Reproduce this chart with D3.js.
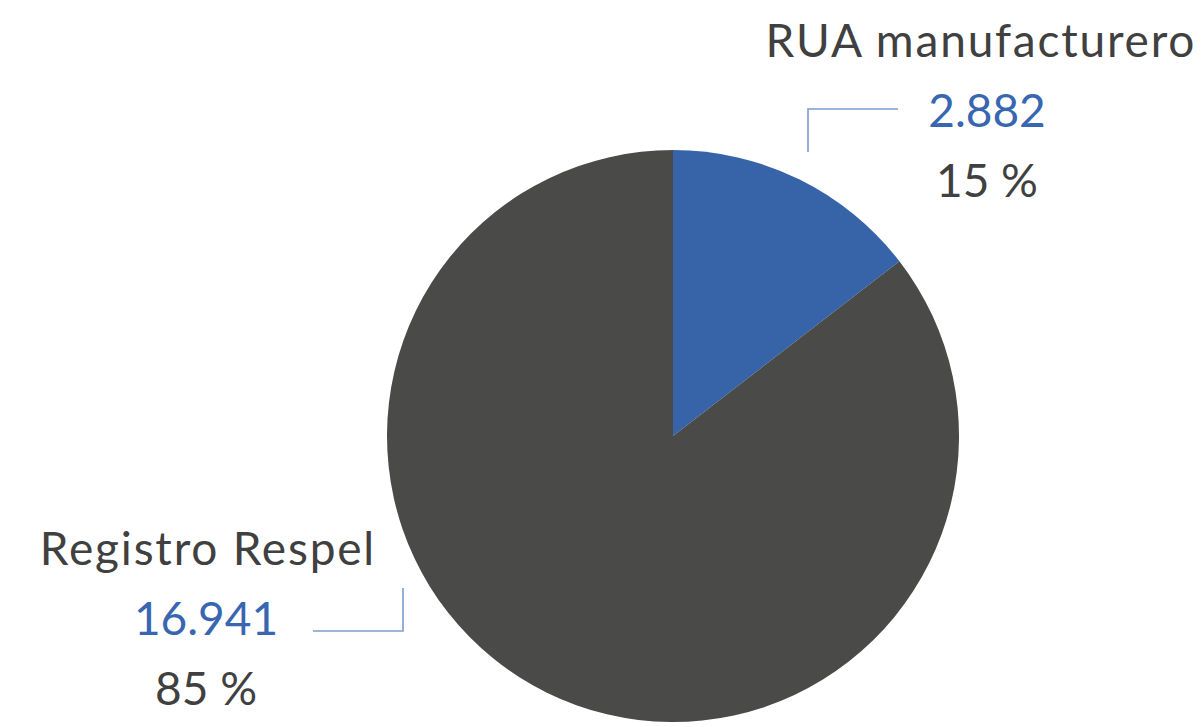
<!DOCTYPE html>
<html>
<head>
<meta charset="utf-8">
<script src="https://cdn.jsdelivr.net/npm/d3@7"></script>
<style>
  html, body { margin: 0; padding: 0; background: #ffffff; }
  svg { display: block; }
  text { font-family: "Lato", "Noto Sans", sans-serif; }
</style>
</head>
<body>
<svg id="chart" width="1204" height="727"></svg>
<script>
// ---- data ----
const categories = ["RUA manufacturero", "Registro Respel"];
const values = [2882, 16941];
const valueLabels = ["2.882", "16.941"];
const percentLabels = ["15 %", "85 %"];

// ---- layout ----
const W = 1204, H = 727;
const cx = 673, cy = 436, R = 286;
const colors = ["#3763a9", "#4a4a48"];
const textGray = "#404040";
const textBlue = "#3866b0";
const leaderColor = "#7d9ccf";
const fontSize = 46;

const svg = d3.select("#chart");
const g = svg.append("g").attr("transform", `translate(${cx},${cy})`);

const pie = d3.pie().sort(null).value(d => d);
const arcs = pie(values);
const arc = d3.arc().innerRadius(0).outerRadius(R);

g.selectAll("path.slice")
  .data(arcs)
  .join("path")
  .attr("class", "slice")
  .attr("d", arc)
  .attr("fill", (d, i) => colors[i]);

// label placement (relative to pie centre)
const labelPos = [
  { x: 314, nameX: 307, y0: -379, lead: [[135, -284], [135, -327], [225, -327]] },
  { x: -467, nameX: -466, y0: 129, lead: [[-360, 195], [-270, 195], [-270, 152]] }
];
const lineGap = 70;

labelPos.forEach((p, i) => {
  const lg = g.append("g");
  const addText = (x, y, fill, str, spacing) => lg.append("text")
    .attr("x", x + spacing / 2).attr("y", y)
    .attr("text-anchor", "middle")
    .attr("font-size", fontSize)
    .attr("letter-spacing", spacing)
    .attr("fill", fill)
    .text(str);
  addText(p.nameX, p.y0, textGray, categories[i], 1.8);
  addText(p.x, p.y0 + lineGap, textBlue, valueLabels[i], 0);
  addText(p.x, p.y0 + 2 * lineGap, textGray, percentLabels[i], 0);
  lg.append("path")
    .attr("d", d3.line()(p.lead))
    .attr("fill", "none")
    .attr("stroke", leaderColor)
    .attr("stroke-width", 1.6);
});
</script>
</body>
</html>
